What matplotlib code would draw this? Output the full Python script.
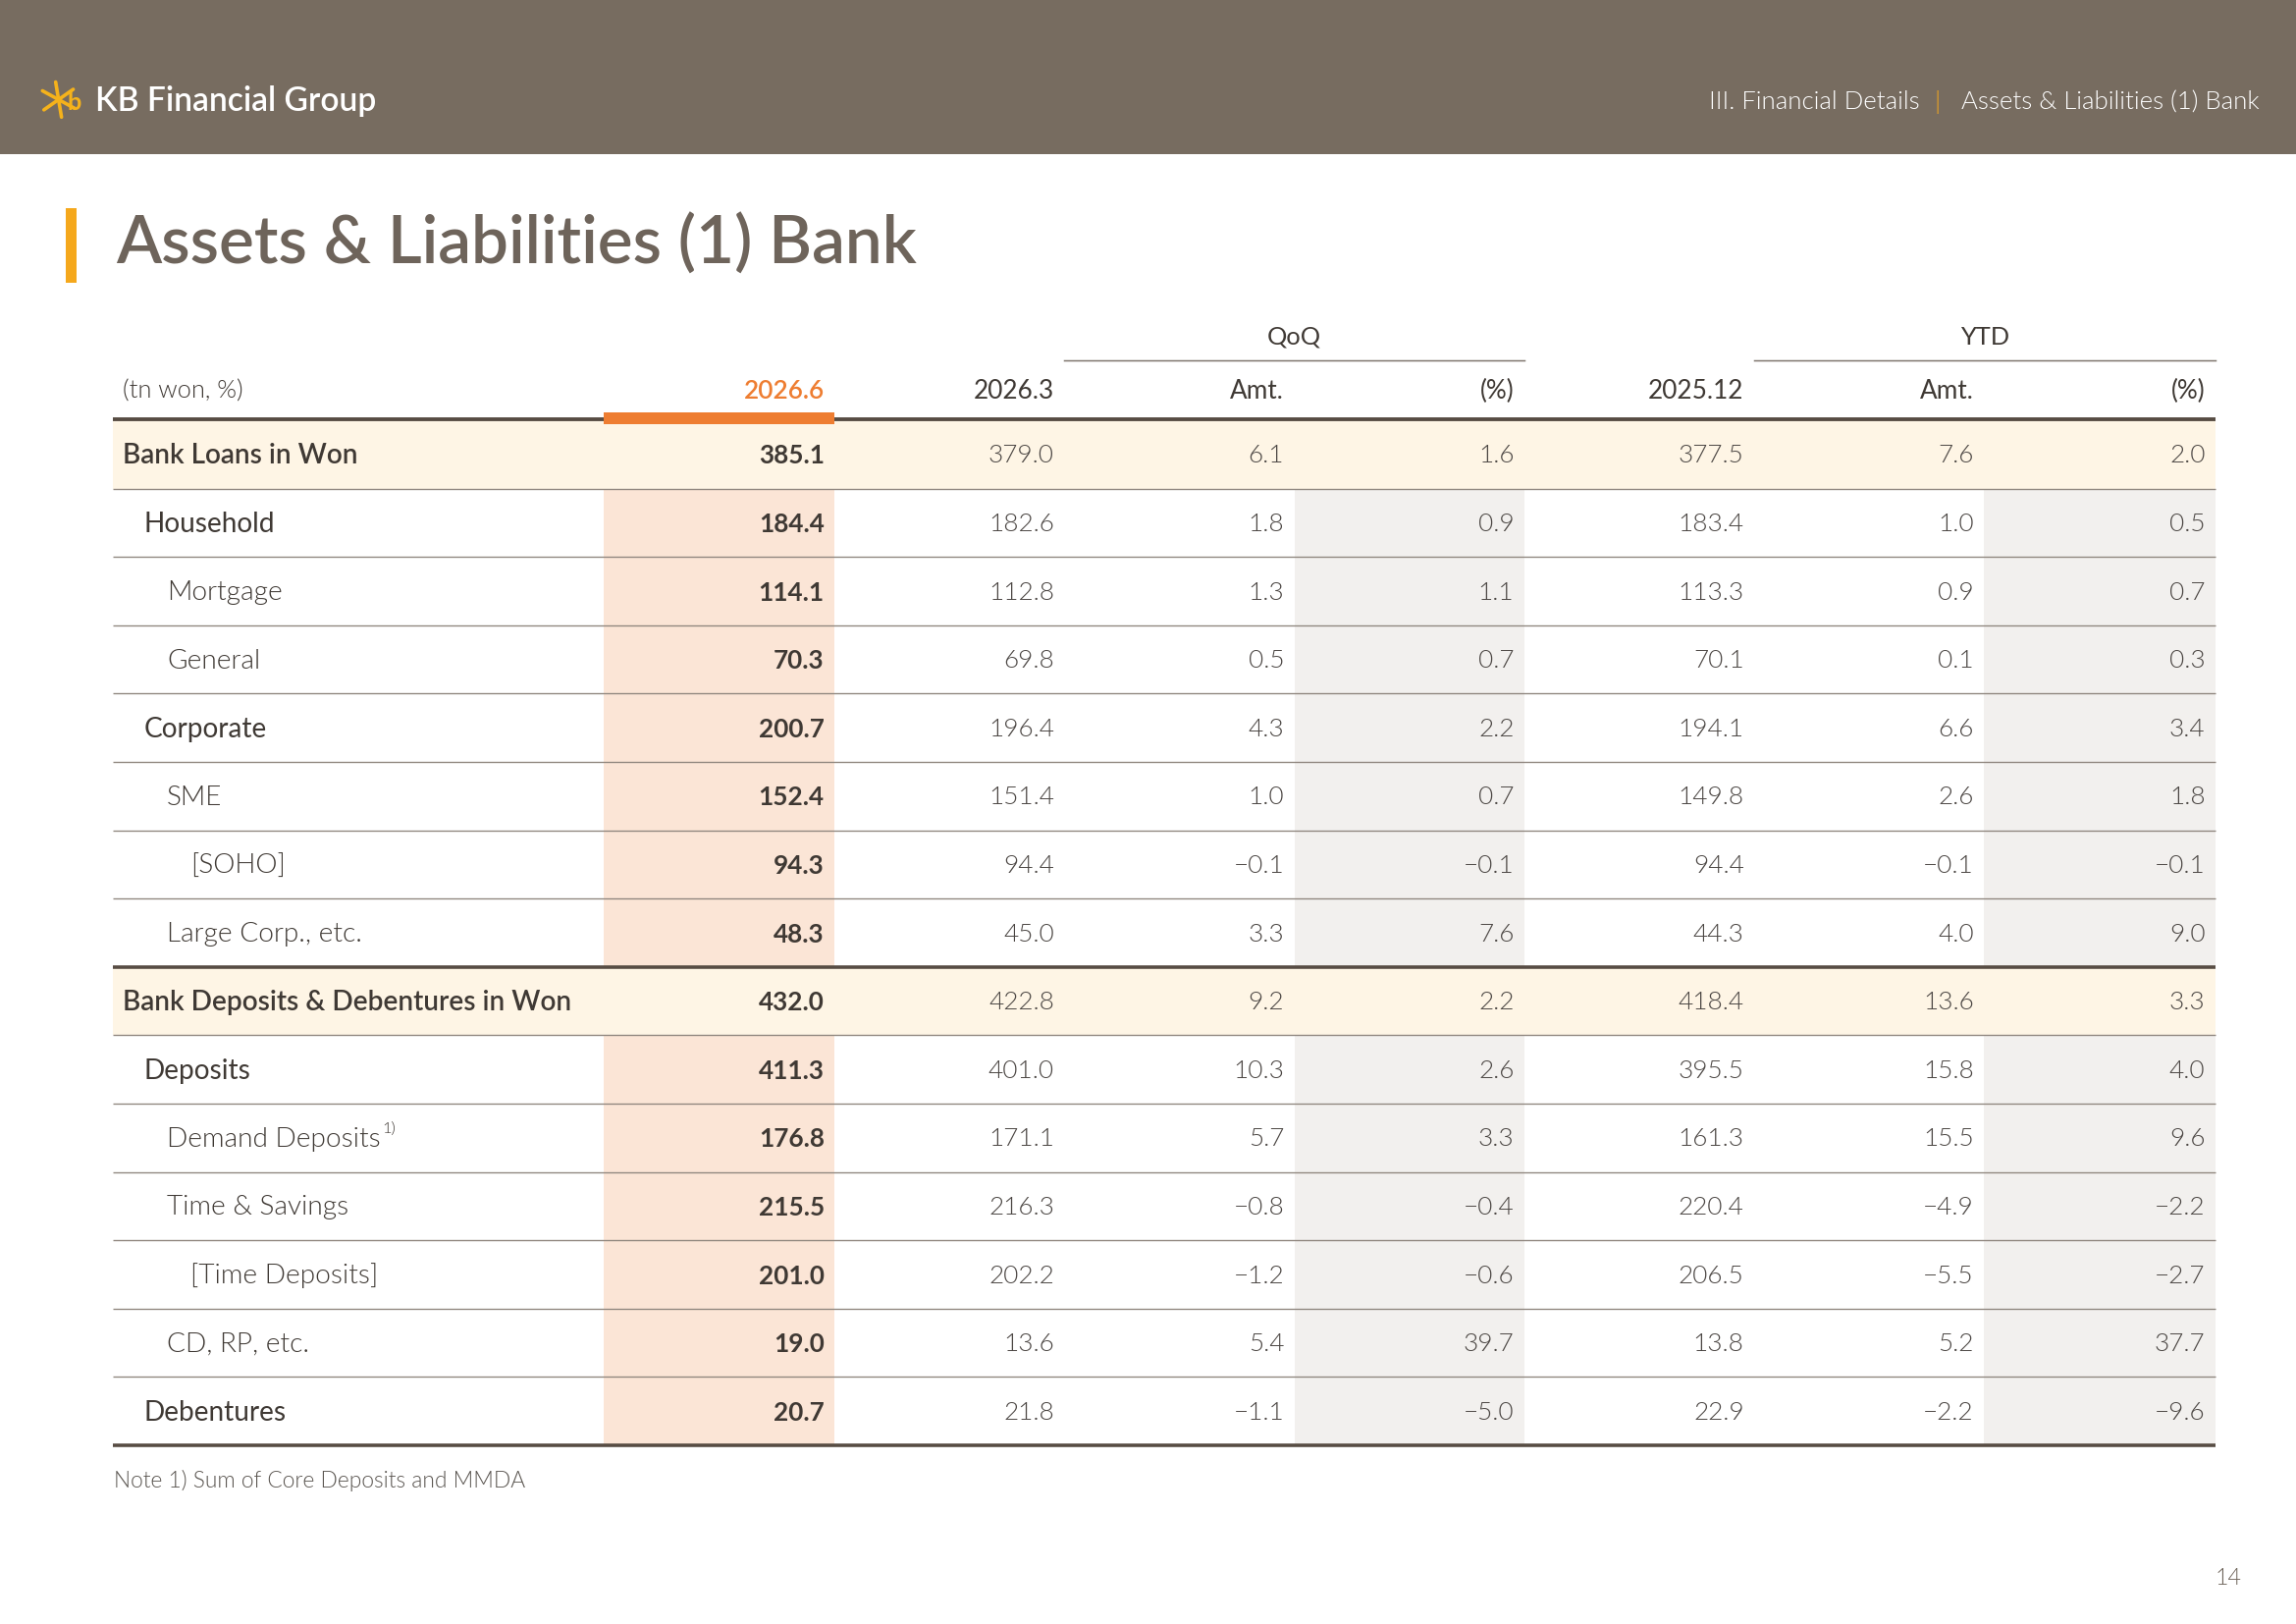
import matplotlib
matplotlib.use("Agg")
import matplotlib.pyplot as plt
from matplotlib.patches import Rectangle

# ---------------- data ----------------
row_labels = ["Bank Loans in Won", "Household", "Mortgage", "General", "Corporate",
              "SME", "[SOHO]", "Large Corp., etc.",
              "Bank Deposits & Debentures in Won", "Deposits", "Demand Deposits",
              "Time & Savings", "[Time Deposits]", "CD, RP, etc.", "Debentures"]
row_levels = [0, 1, 2, 2, 1, 2, 3, 2, 0, 1, 2, 2, 3, 2, 1]
col_headers = ["2026.6", "2026.3", "Amt.", "(%)", "2025.12", "Amt.", "(%)"]
group_headers = ["QoQ", "YTD"]
unit_label = "(tn won, %)"

v_2026_6 = [385.1, 184.4, 114.1, 70.3, 200.7, 152.4, 94.3, 48.3,
            432.0, 411.3, 176.8, 215.5, 201.0, 19.0, 20.7]
v_2026_3 = [379.0, 182.6, 112.8, 69.8, 196.4, 151.4, 94.4, 45.0,
            422.8, 401.0, 171.1, 216.3, 202.2, 13.6, 21.8]
qoq_amt = [6.1, 1.8, 1.3, 0.5, 4.3, 1.0, -0.1, 3.3,
           9.2, 10.3, 5.7, -0.8, -1.2, 5.4, -1.1]
qoq_pct = [1.6, 0.9, 1.1, 0.7, 2.2, 0.7, -0.1, 7.6,
           2.2, 2.6, 3.3, -0.4, -0.6, 39.7, -5.0]
v_2025_12 = [377.5, 183.4, 113.3, 70.1, 194.1, 149.8, 94.4, 44.3,
             418.4, 395.5, 161.3, 220.4, 206.5, 13.8, 22.9]
ytd_amt = [7.6, 1.0, 0.9, 0.1, 6.6, 2.6, -0.1, 4.0,
           13.6, 15.8, 15.5, -4.9, -5.5, 5.2, -2.2]
ytd_pct = [2.0, 0.5, 0.7, 0.3, 3.4, 1.8, -0.1, 9.0,
           3.3, 4.0, 9.6, -2.2, -2.7, 37.7, -9.6]
columns = [v_2026_6, v_2026_3, qoq_amt, qoq_pct, v_2025_12, ytd_amt, ytd_pct]
footnote_rows = {10: "1)"}
note_text = "Note 1) Sum of Core Deposits and MMDA"
title_text = "Assets & Liabilities (1) Bank"
page_no = "14"

# ---------------- style ----------------
FONT = ["Lato", "DejaVu Sans"]
plt.rcParams["font.family"] = FONT
W, H = 1568, 1109           # layout units (scaled to 2339x1654 output)
PX = 2339 / W * 0.72         # points per layout unit
LIGHT = 300

BAND = "#776c60"
TITLE_C = "#6e645b"
DARK = "#3f3934"
NUM_C = "#4b4643"
ORANGE = "#ee7d31"
YELLOW = "#f5a81c"
CREAM = "#fef5e5"
SALMON = "#fbe5d6"
GRAY = "#f2f0ee"
LINE_DARK = "#574c43"
LINE_THIN = "#8f867e"

fig = plt.figure(figsize=(23.39, 16.54), dpi=100)
ax = fig.add_axes([0, 0, 1, 1])
ax.set_xlim(0, W)
ax.set_ylim(H, 0)
ax.axis("off")

def fs(u):
    return u * PX

# header band
ax.add_patch(Rectangle((0, 0), W, 105, color=BAND, lw=0, zorder=0))
# logo mark
cx, cy = 40, 68
for (dx1, dy1, dx2, dy2) in [(-2, -12, 2, 12), (-11, -6, 11, 6), (-10, 7, 10, -7)]:
    ax.plot([cx + dx1, cx + dx2], [cy + dy1, cy + dy2], color="#f5b21b", lw=2.6,
            solid_capstyle="round", zorder=2)
ax.text(51, 70, "b", color="#f5b21b", fontsize=fs(17), fontweight="bold",
        ha="center", va="center", zorder=3)
ax.text(65, 69, "KB Financial Group", color="white", fontsize=fs(22.5),
        fontweight=600, ha="left", va="center")
ax.text(1543, 70, "Assets & Liabilities (1) Bank", color="white", fontsize=fs(17.3),
        fontweight=LIGHT, ha="right", va="center")
ax.text(1323, 70, "|", color=YELLOW, fontsize=fs(17.3), fontweight=LIGHT,
        ha="center", va="center")
ax.text(1311, 70, "III. Financial Details", color="white", fontsize=fs(17.3),
        fontweight=LIGHT, ha="right", va="center")

# title
ax.add_patch(Rectangle((45, 142), 7, 51, color=YELLOW, lw=0))
ax.text(79, 167, title_text, color=TITLE_C, fontsize=fs(45.2),
        fontweight=600, ha="left", va="center")

# table geometry
x_left, x_right = 77, 1513
col_edges = [412, 570, 727, 884, 1041, 1198, 1355, 1513]
top = 287
row_h = (987 - 287) / len(row_labels)
section_rows = [i for i, lv in enumerate(row_levels) if lv == 0]

for i in range(len(row_labels)):
    y0 = top + i * row_h
    if i in section_rows:
        ax.add_patch(Rectangle((x_left, y0), x_right - x_left, row_h,
                               color=CREAM, lw=0, zorder=0.5))
    else:
        ax.add_patch(Rectangle((col_edges[0], y0), col_edges[1] - col_edges[0], row_h,
                               color=SALMON, lw=0, zorder=0.5))
        for c in (3, 6):
            ax.add_patch(Rectangle((col_edges[c], y0), col_edges[c + 1] - col_edges[c],
                                   row_h, color=GRAY, lw=0, zorder=0.5))

# row lines
for i in range(1, len(row_labels)):
    y = top + i * row_h
    if i in section_rows:
        ax.plot([x_left, x_right], [y, y], color=LINE_DARK, lw=fs(2.4), zorder=2,
                solid_capstyle="butt")
    else:
        ax.plot([x_left, x_right], [y, y], color=LINE_THIN, lw=fs(0.9), zorder=2,
                solid_capstyle="butt")
ax.plot([x_left, x_right], [286, 286], color=LINE_DARK, lw=fs(2.6), zorder=2,
        solid_capstyle="butt")
ax.plot([x_left, x_right], [987, 987], color=LINE_DARK, lw=fs(2.4), zorder=2,
        solid_capstyle="butt")
ax.add_patch(Rectangle((col_edges[0], 281.5), col_edges[1] - col_edges[0], 8,
                       color=ORANGE, lw=0, zorder=3))

# group headers
for gi, (a, b) in enumerate([(2, 4), (5, 7)]):
    xa, xb = col_edges[a], col_edges[b]
    ax.plot([xa, xb], [246, 246], color="#7d736b", lw=fs(1.0), zorder=2)
    ax.text((xa + xb) / 2, 230, group_headers[gi], color=DARK, fontsize=fs(17),
            ha="center", va="center")

# column headers
ax.text(84, 267, unit_label, color=DARK, fontsize=fs(17), fontweight=LIGHT,
        ha="left", va="center")
for c, lab in enumerate(col_headers):
    ax.text(col_edges[c + 1] - 7, 267, lab, color=ORANGE if c == 0 else DARK,
            fontsize=fs(17.5), fontweight=600 if c == 0 else "normal",
            ha="right", va="center")

def fmt(v):
    s = f"{v:.1f}"
    return s.replace("-", "\u2212")

indent_x = [84, 98, 114, 130]
inv = ax.transData.inverted()
for i, lab in enumerate(row_labels):
    yc = top + (i + 0.5) * row_h + 1
    lv = row_levels[i]
    weight = 600 if lv == 0 else ("normal" if lv == 1 else LIGHT)
    t = ax.text(indent_x[lv], yc, lab, color=DARK, fontsize=fs(18.8),
                fontweight=weight, ha="left", va="center", zorder=4)
    if i in footnote_rows:
        fig.canvas.draw()
        bb = t.get_window_extent(renderer=fig.canvas.get_renderer())
        xr, _ = inv.transform((bb.x1, bb.y1))
        ax.text(xr + 1, yc - 7, footnote_rows[i], color=DARK, fontsize=fs(11),
                fontweight=LIGHT, ha="left", va="center", zorder=4)
    for c, col in enumerate(columns):
        ax.text(col_edges[c + 1] - 7, yc, fmt(col[i]),
                color=DARK if c == 0 else NUM_C, fontsize=fs(17.5),
                fontweight="bold" if c == 0 else LIGHT,
                ha="right", va="center", zorder=4)

ax.text(78, 1011, note_text, color="#5a5550", fontsize=fs(15.3), fontweight=LIGHT,
        ha="left", va="center")
ax.text(1531, 1078, page_no, color=TITLE_C, fontsize=fs(15.5), fontweight=LIGHT,
        ha="right", va="center")

fig.savefig("out.png", dpi=100)
